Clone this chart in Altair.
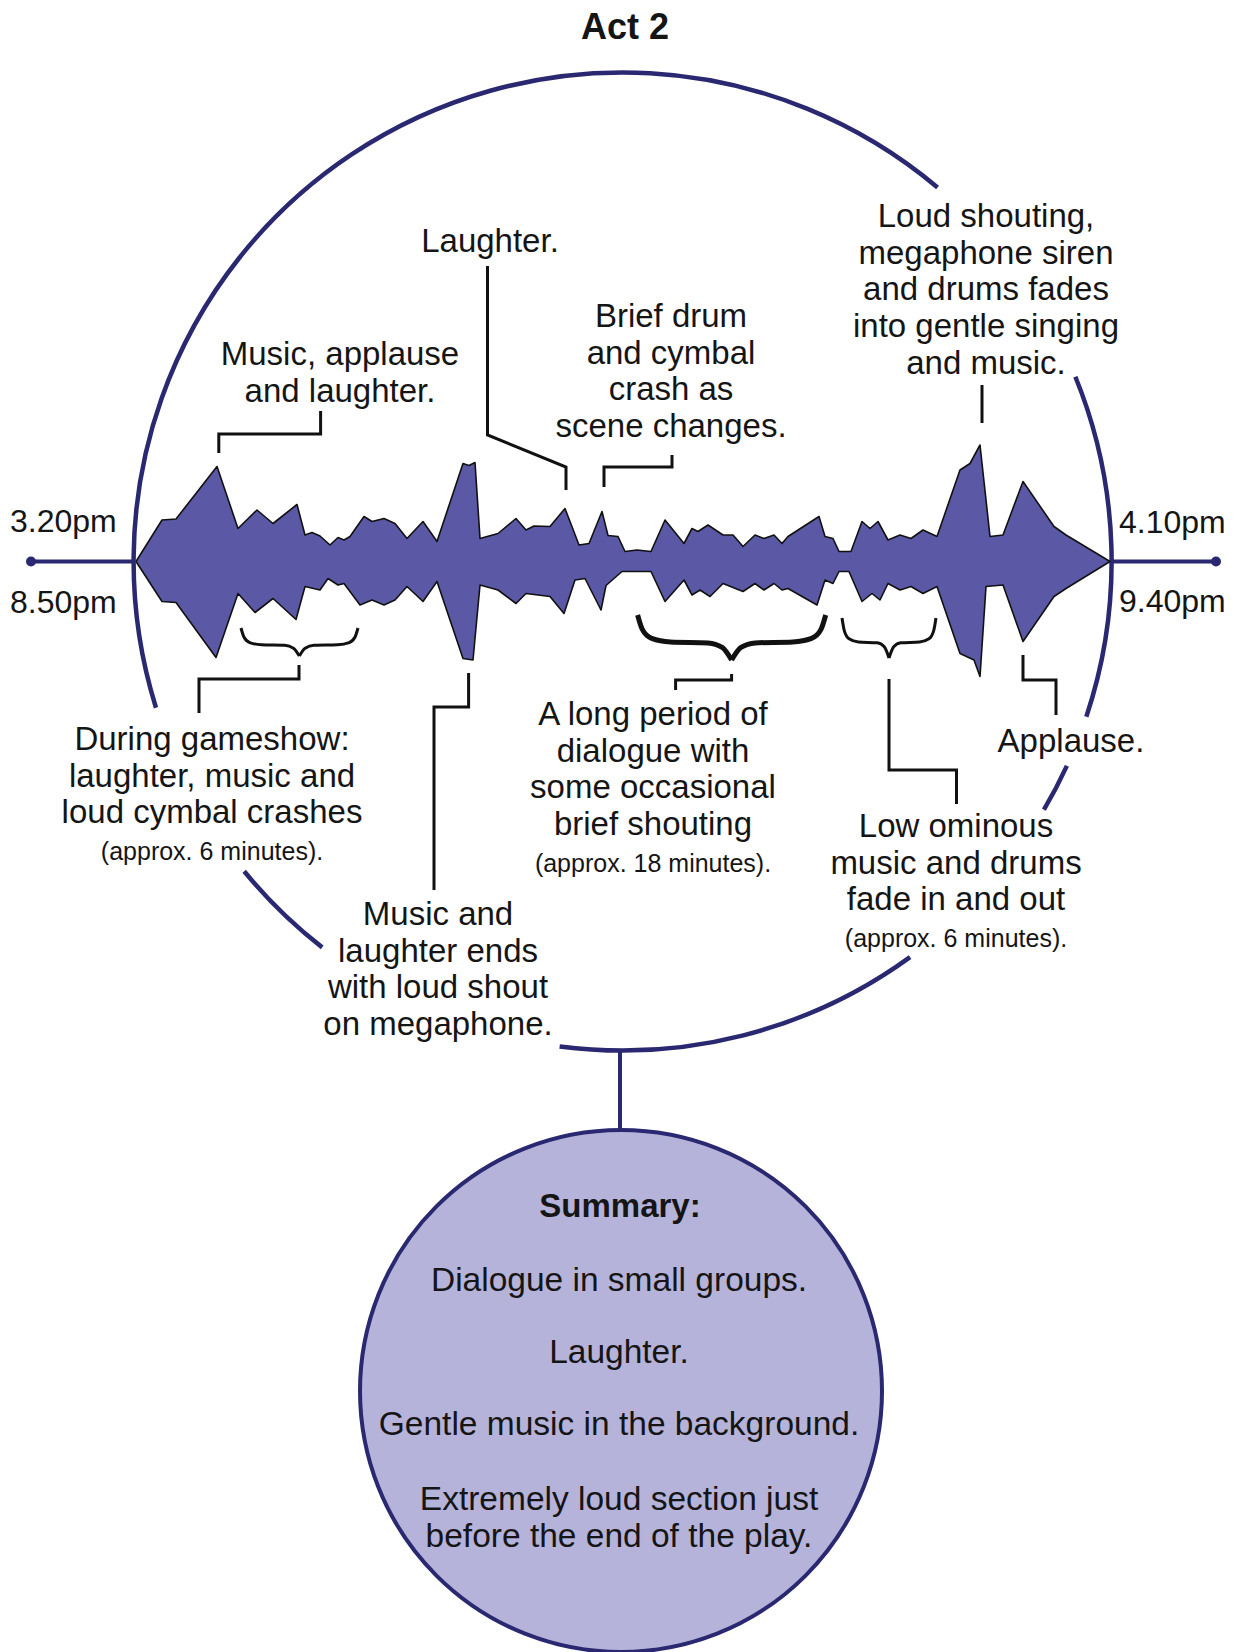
import math
import altair as alt
import pandas as pd

# ---------------- colours / fonts ----------------
NAVY = "#2a2870"
WAVE = "#5b59a6"
LAV = "#b5b3da"
INK = "#151515"
FONT = "Liberation Sans"

# ---------------- waveform envelope ----------------
CENTRE = 561.5  # y of the time axis
top_x = [136, 162, 176, 217, 238, 257, 273, 297, 305, 312, 320, 330, 338, 344, 350,
         364, 372, 384, 395, 407, 423, 437, 463, 469, 475, 480, 498, 516, 526, 534,
         550, 565, 579, 589, 602, 608, 618, 625, 637, 651, 665, 684, 692, 698, 708,
         723, 733, 743, 755, 764, 774, 782, 788, 819, 825, 833, 839, 851, 862, 870,
         878, 888, 900, 911, 923, 937, 960, 970, 980, 990, 1003, 1023, 1054, 1066, 1110]
top_amp = [0, 41.5, 42.5, 95, 33, 51.5, 38, 57, 26.5, 29, 25.5, 16.5, 24, 21.5, 25,
           45, 40, 43, 38, 23, 40, 20, 98, 96, 99, 23, 28, 43, 31.5, 35.5,
           35, 53, 16.5, 18, 50, 26, 25, 10, 11.5, 10, 41.5, 18, 33, 30, 36.5,
           26.5, 26.5, 15, 26.5, 23, 26.5, 18, 25, 45, 25, 23, 10, 10, 40, 33,
           40, 21.5, 26.5, 23, 31.5, 25, 91.5, 98, 116.5, 25, 26.5, 80, 35, 26.5, 0]
bot_x = [136, 162, 176, 216, 238, 255, 273, 296, 305, 320, 328, 338, 344, 360, 372,
         384, 395, 407, 423, 437, 463, 473, 480, 498, 516, 526, 550, 564, 575, 585,
         601, 606, 622, 637, 651, 665, 684, 692, 700, 710, 723, 743, 755, 764, 774,
         782, 788, 817, 825, 833, 839, 849, 862, 872, 880, 888, 900, 911, 923, 937,
         960, 974, 980, 986, 1003, 1023, 1054, 1066, 1110]
bot_amp = [0, 40, 41, 96, 32, 51, 37, 58, 25, 28.5, 17, 23.5, 22, 43.5, 38.5,
           43.5, 38.5, 25, 40, 20, 97, 98.5, 23.5, 28.5, 42, 32, 35, 52, 18.5, 17,
           48.5, 24, 10, 10, 10, 40, 18.5, 33.5, 28.5, 35, 22, 30, 22, 28.5, 22,
           28.5, 27, 43.5, 18.5, 22, 10, 10, 40, 32, 38.5, 22, 28.5, 25, 32, 25,
           92, 98.5, 115, 25, 23.5, 80, 35, 27, 0]

# ---------------- texts ----------------
title_text = "Act 2"
time_labels = ["3.20pm", "8.50pm", "4.10pm", "9.40pm"]
notes = [
    ["Laughter."],
    ["Music, applause", "and laughter."],
    ["Brief drum", "and cymbal", "crash as", "scene changes."],
    ["Loud shouting,", "megaphone siren", "and drums fades", "into gentle singing", "and music."],
    ["During gameshow:", "laughter, music and", "loud cymbal crashes"],
    ["A long period of", "dialogue with", "some occasional", "brief shouting"],
    ["Applause."],
    ["Low ominous", "music and drums", "fade in and out"],
    ["Music and", "laughter ends", "with loud shout", "on megaphone."],
]
durations = ["(approx. 6 minutes).", "(approx. 18 minutes).", "(approx. 6 minutes)."]
summary_head = "Summary:"
summary_lines = ["Dialogue in small groups.", "Laughter.", "Gentle music in the background.",
                 "Extremely loud section just", "before the end of the play."]

# ---------------- layout (pixel positions of the infographic) ----------------
LINE = 36.7
note_pos = [(490, 252), (340, 365), (671, 327), (986, 227), (212, 750),
            (653, 725), (1071, 752), (956, 837), (438, 925)]
duration_pos = [(212, 860), (653, 872), (956, 947)]
time_pos = [(10, 532, "left"), (10, 613, "left"), (1119, 533, "left"), (1119, 612, "left")]
title_pos = (625, 39)
summary_head_pos = (620, 1217)
summary_pos = [(619, 1291), (619, 1363), (619, 1435), (619, 1510), (619, 1547)]

BIG_C = (622.6, 561.5, 489)
SMALL_C = (621, 1391, 261)
# visible arcs of the big circle (degrees, clockwise from 12 o'clock)
big_arcs = [(67.8, 108.5), (114.7, 120.5), (144, 187.4), (-142.1, -129.3), (-107.4, 40.1)]

leaders = [
    [(218.8, 453), (218.8, 434), (320.6, 434), (320.6, 411)],
    [(487.5, 266), (487.5, 435), (566, 467), (566, 490)],
    [(604, 487), (604, 467), (672, 467), (672, 455)],
    [(982, 385), (982, 423)],
    [(299, 665), (299, 679), (199, 679), (199, 713)],
    [(468.6, 673), (468.6, 707), (434, 707), (434, 890)],
    [(731.6, 674), (731.6, 680), (675.6, 680), (675.6, 690)],
    [(889, 679), (889, 770), (956.5, 770), (956.5, 804)],
    [(1023, 655), (1023, 680), (1056, 680), (1056, 715)],
]
# braces: left x, right x, middle x, top y, tip y, stroke width
braces = [(241, 358, 299.3, 628, 656, 3), (637.6, 825.7, 731.6, 615, 660, 5),
          (842, 936, 889, 618, 658, 3)]
brace_shape = [(0, 0), (0.05, 0.32), (0.15, 0.52), (0.35, 0.6), (0.75, 0.62), (0.9, 0.72), (1, 1)]

# ---------------- build tables ----------------
wave = []
k = 0
for x, a in zip(top_x, top_amp):
    wave.append({"x": x, "y": CENTRE - a, "i": k}); k += 1
for x, a in zip(reversed(bot_x), reversed(bot_amp)):
    wave.append({"x": x, "y": CENTRE + a, "i": k}); k += 1
wave_df = pd.DataFrame(wave)

txt = []
for lines, (x, y) in zip(notes, note_pos):
    for j, s in enumerate(lines):
        txt.append({"x": x, "y": y + j * LINE, "t": s})
txt_df = pd.DataFrame(txt)
dur_df = pd.DataFrame([{"x": x, "y": y, "t": s} for s, (x, y) in zip(durations, duration_pos)])
time_df = pd.DataFrame([{"x": x, "y": y, "t": s} for s, (x, y, a) in zip(time_labels, time_pos)])
sum_df = pd.DataFrame([{"x": x, "y": y, "t": s} for s, (x, y) in zip(summary_lines, summary_pos)])
head_df = pd.DataFrame([{"x": summary_head_pos[0], "y": summary_head_pos[1], "t": summary_head}])
title_df = pd.DataFrame([{"x": title_pos[0], "y": title_pos[1], "t": title_text}])

lead = []
for g, pts in enumerate(leaders):
    for j, (x, y) in enumerate(pts):
        lead.append({"x": x, "y": y, "g": g, "i": j})
lead_df = pd.DataFrame(lead)

br_rows = {3: [], 5: []}
for g, (xl, xr, xm, yt, yb, w) in enumerate(braces):
    hl = xm - xl
    hr = xr - xm
    for j, (u, v) in enumerate(brace_shape):
        br_rows[w].append({"x": xl + u * hl, "y": yt + v * (yb - yt), "g": f"{g}L", "i": j})
    for j, (u, v) in enumerate(reversed(brace_shape)):
        br_rows[w].append({"x": xm + (1 - u) * hr, "y": yt + v * (yb - yt), "g": f"{g}R", "i": j})

arc_df = pd.DataFrame([{"x": BIG_C[0], "y": BIG_C[1], "t0": math.radians(a), "t1": math.radians(b)}
                       for a, b in big_arcs])
small_df = pd.DataFrame([{"x": SMALL_C[0], "y": SMALL_C[1], "t0": 0.0, "t1": 2 * math.pi}])

axis_df = pd.DataFrame([{"x": 31, "x2": BIG_C[0] - BIG_C[2], "y": CENTRE},
                        {"x": BIG_C[0] + BIG_C[2], "x2": 1216, "y": CENTRE}])
dot_df = pd.DataFrame([{"x": 31, "y": CENTRE}, {"x": 1216, "y": CENTRE}])
conn_df = pd.DataFrame([{"x": 620, "y": BIG_C[1] + BIG_C[2], "y2": SMALL_C[1] - SMALL_C[2]}])

# ---------------- scales ----------------
XS = alt.Scale(domain=[8, 1233], nice=False, zero=False)
YS = alt.Scale(domain=[8, 1652], nice=False, zero=False, reverse=True)


def X(f="x"):
    return alt.X(f"{f}:Q", scale=XS, axis=None)


def Y(f="y"):
    return alt.Y(f"{f}:Q", scale=YS, axis=None)


layers = []
layers.append(alt.Chart(axis_df).mark_rule(color=NAVY, strokeWidth=4).encode(
    x=X(), x2="x2:Q", y=Y()))
layers.append(alt.Chart(dot_df).mark_circle(color=NAVY, size=100, opacity=1).encode(x=X(), y=Y()))
layers.append(alt.Chart(conn_df).mark_rule(color=NAVY, strokeWidth=4).encode(
    x=X(), y=Y(), y2="y2:Q"))
layers.append(alt.Chart(arc_df).mark_arc(filled=False, color=NAVY, strokeWidth=4.5,
                                         radius=BIG_C[2], radius2=BIG_C[2]).encode(
    x=X(), y=Y(), theta=alt.Theta("t0:Q", scale=None), theta2="t1:Q"))
layers.append(alt.Chart(small_df).mark_arc(fill=LAV, stroke=NAVY, strokeWidth=4,
                                           radius=SMALL_C[2], radius2=0).encode(
    x=X(), y=Y(), theta=alt.Theta("t0:Q", scale=None), theta2="t1:Q"))
layers.append(alt.Chart(wave_df).mark_line(fill=WAVE, stroke="#111111", strokeWidth=1.6,
                                           strokeJoin="round").encode(
    x=X(), y=Y(), order="i:Q"))
layers.append(alt.Chart(lead_df).mark_line(color="#111111", strokeWidth=3).encode(
    x=X(), y=Y(), detail="g:N", order="i:Q"))
for w, rows in br_rows.items():
    layers.append(alt.Chart(pd.DataFrame(rows)).mark_line(color="#111111", strokeWidth=w,
                                                          interpolate="monotone").encode(
        x=X(), y=Y(), detail="g:N", order="i:Q"))

layers.append(alt.Chart(txt_df).mark_text(font=FONT, fontSize=33, color=INK, align="center",
                                          baseline="alphabetic").encode(x=X(), y=Y(), text="t:N"))
layers.append(alt.Chart(dur_df).mark_text(font=FONT, fontSize=25, color=INK, align="center",
                                          baseline="alphabetic").encode(x=X(), y=Y(), text="t:N"))
layers.append(alt.Chart(time_df).mark_text(font=FONT, fontSize=32, color=INK, align="left",
                                           baseline="alphabetic").encode(x=X(), y=Y(), text="t:N"))
layers.append(alt.Chart(title_df).mark_text(font=FONT, fontSize=36, fontWeight="bold", color=INK,
                                            align="center", baseline="alphabetic").encode(
    x=X(), y=Y(), text="t:N"))
layers.append(alt.Chart(head_df).mark_text(font=FONT, fontSize=33, fontWeight="bold", color=INK,
                                           align="center", baseline="alphabetic").encode(
    x=X(), y=Y(), text="t:N"))
layers.append(alt.Chart(sum_df).mark_text(font=FONT, fontSize=33.5, color=INK, align="center",
                                          baseline="alphabetic").encode(x=X(), y=Y(), text="t:N"))

chart = alt.layer(*layers).properties(
    width=1225, height=1644, padding=0, autosize="none", background="white"
).configure_view(stroke=None)

chart.save("out.html", embed_options={"renderer": "svg", "actions": False})
